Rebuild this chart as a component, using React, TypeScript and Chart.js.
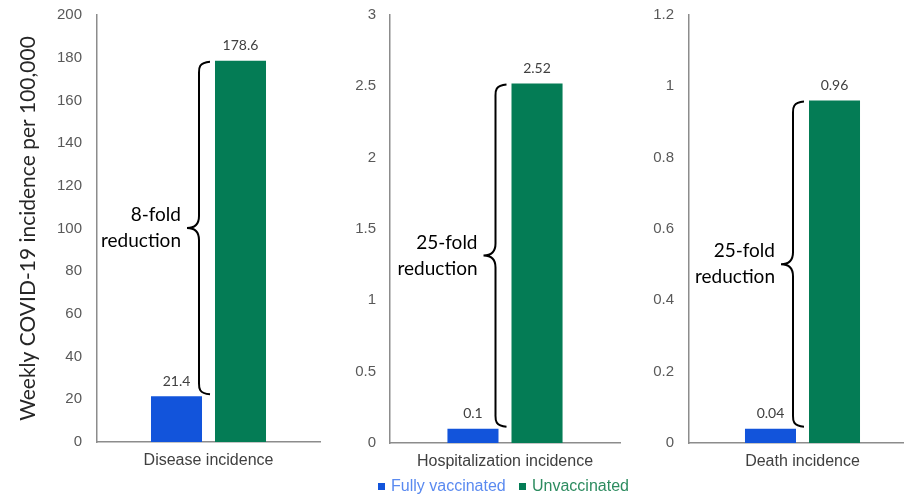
import React, { useEffect, useRef } from "react";
import { Chart, registerables } from "chart.js";

Chart.register(...registerables);

const categories = ["Disease incidence", "Hospitalization incidence", "Death incidence"];
const seriesNames = ["Fully vaccinated", "Unvaccinated"];
const fullyVaccinated = [21.4, 0.1, 0.04];
const unvaccinated = [178.6, 2.52, 0.96];
const yMax = [200, 3, 1.2];
const yStep = [20, 0.5, 0.2];
const foldLabels = [
  ["8-fold", "reduction"],
  ["25-fold", "reduction"],
  ["25-fold", "reduction"],
];
const yTitle = "Weekly COVID-19 incidence per 100,000";

const BLUE = "#1254DB";
const GREEN = "#047C55";
const TICK_FONT = "'Liberation Sans', Arial, sans-serif";
const NOTE_FONT = "Lato, 'Open Sans', sans-serif";

type Layout = {
  left: number;
  width: number;
  axisWidth: number;
  tickPad: number;
  padRight: number;
  padBottom: number;
  cp: number;
};

const layouts: Layout[] = [
  { left: 0, width: 330, axisWidth: 97, tickPad: 15, padRight: 10, padBottom: 26, cp: 0.574 },
  { left: 330, width: 295, axisWidth: 60, tickPad: 14, padRight: 5, padBottom: 25, cp: 0.557 },
  { left: 629, width: 287, axisWidth: 60, tickPad: 15, padRight: 0, padBottom: 25, cp: 0.564 },
];

function Panel({ idx }: { idx: number }) {
  const ref = useRef<HTMLCanvasElement | null>(null);
  const L = layouts[idx];

  useEffect(() => {
    if (!ref.current) return;
    const annot = {
      id: "annot" + idx,
      afterDatasetsDraw(chart: any) {
        const ctx = chart.ctx as CanvasRenderingContext2D;
        const b = chart.getDatasetMeta(0).data[0];
        const g = chart.getDatasetMeta(1).data[0];
        const vals = [fullyVaccinated[idx], unvaccinated[idx]];
        ctx.save();
        ctx.font = `14px ${NOTE_FONT}`;
        ctx.fillStyle = "#404040";
        ctx.textAlign = "center";
        ctx.textBaseline = "middle";
        [b, g].forEach((el: any, k: number) => {
          ctx.fillText(String(vals[k]), el.x, el.y - 15);
        });
        // brace
        const gLeft = g.x - g.width / 2;
        const x0 = gLeft - 5;
        const x1 = gLeft - 16;
        const xt = gLeft - 28;
        const yTop = g.y + 1;
        const yBot = b.y - 2;
        const yMid = (yTop + yBot) / 2;
        const r = 12;
        ctx.beginPath();
        ctx.moveTo(x0, yTop);
        ctx.bezierCurveTo(x1 - 1, yTop + 1, x1, yTop + r * 0.6, x1, yTop + r);
        ctx.lineTo(x1, yMid - r);
        ctx.quadraticCurveTo(x1, yMid, xt, yMid);
        ctx.quadraticCurveTo(x1, yMid, x1, yMid + r);
        ctx.lineTo(x1, yBot - r);
        ctx.bezierCurveTo(x1, yBot - r * 0.6, x1 - 1, yBot - 1, x0, yBot);
        ctx.strokeStyle = "#000";
        ctx.lineWidth = 2;
        ctx.stroke();
        // fold text
        ctx.font = `19px ${NOTE_FONT}`;
        ctx.fillStyle = "#000";
        ctx.textAlign = "right";
        ctx.fillText(foldLabels[idx][0], gLeft - 34, yMid - 13);
        ctx.fillText(foldLabels[idx][1], gLeft - 34, yMid + 13);
        ctx.restore();
      },
    };

    const chart = new Chart(ref.current, {
      type: "bar",
      data: {
        labels: [categories[idx]],
        datasets: [
          { label: seriesNames[0], data: [fullyVaccinated[idx]], backgroundColor: BLUE, borderWidth: 0 },
          { label: seriesNames[1], data: [unvaccinated[idx]], backgroundColor: GREEN, borderWidth: 0 },
        ],
      },
      options: {
        responsive: false,
        animation: false,
        devicePixelRatio: 1,
        categoryPercentage: L.cp,
        barPercentage: 0.797,
        layout: { padding: { top: 15, left: 0, right: L.padRight, bottom: L.padBottom } },
        plugins: { legend: { display: false }, tooltip: { enabled: false }, title: { display: false } },
        scales: {
          x: {
            grid: { display: false, drawTicks: false },
            border: { display: true, color: "#8c8c8c", width: 1.5 },
            ticks: { color: "#404040", font: { family: TICK_FONT, size: 16 }, padding: 9 },
            afterFit(scale: any) {
              scale.height = 30;
              scale.paddingLeft = 0;
              scale.paddingRight = 0;
            },
          },
          y: {
            min: 0,
            max: yMax[idx],
            grid: { display: false, drawTicks: false },
            border: { display: true, color: "#8c8c8c", width: 1.5 },
            ticks: {
              stepSize: yStep[idx],
              color: "#595959",
              font: { family: TICK_FONT, size: 15 },
              padding: L.tickPad,
              callback: (v: any) => String(Math.round(Number(v) * 100) / 100),
            },
            title: {
              display: idx === 0,
              text: yTitle,
              color: "#262626",
              font: { family: NOTE_FONT, size: 21 },
              padding: { top: 16, bottom: 0 },
            },
            afterFit(scale: any) {
              scale.width = L.axisWidth;
              scale.paddingTop = 0;
              scale.paddingBottom = 0;
            },
          },
        },
      } as any,
      plugins: [annot],
    });
    return () => chart.destroy();
  }, [idx]);

  return (
    <canvas
      ref={ref}
      width={L.width}
      height={498}
      style={{ position: "absolute", left: L.left, top: 0, width: L.width, height: 498 }}
    />
  );
}

export default function App() {
  const legendItem = (color: string, text: string, textColor: string, left: number) => (
    <div
      style={{
        position: "absolute",
        left,
        top: 476,
        height: 20,
        display: "flex",
        alignItems: "center",
        fontFamily: TICK_FONT,
        fontSize: 16,
        color: textColor,
        whiteSpace: "nowrap",
      }}
    >
      <span style={{ display: "inline-block", width: 7, height: 7, background: color, marginRight: 6 }} />
      {text}
    </div>
  );
  return (
    <div
      style={{
        position: "fixed",
        left: 0,
        top: 0,
        width: 904,
        height: 498,
        overflow: "hidden",
        background: "#fff",
      }}
    >
      <Panel idx={0} />
      <Panel idx={1} />
      <Panel idx={2} />
      {legendItem(BLUE, seriesNames[0], "#5a8af0", 378)}
      {legendItem(GREEN, seriesNames[1], "#2d8c60", 519)}
    </div>
  );
}
